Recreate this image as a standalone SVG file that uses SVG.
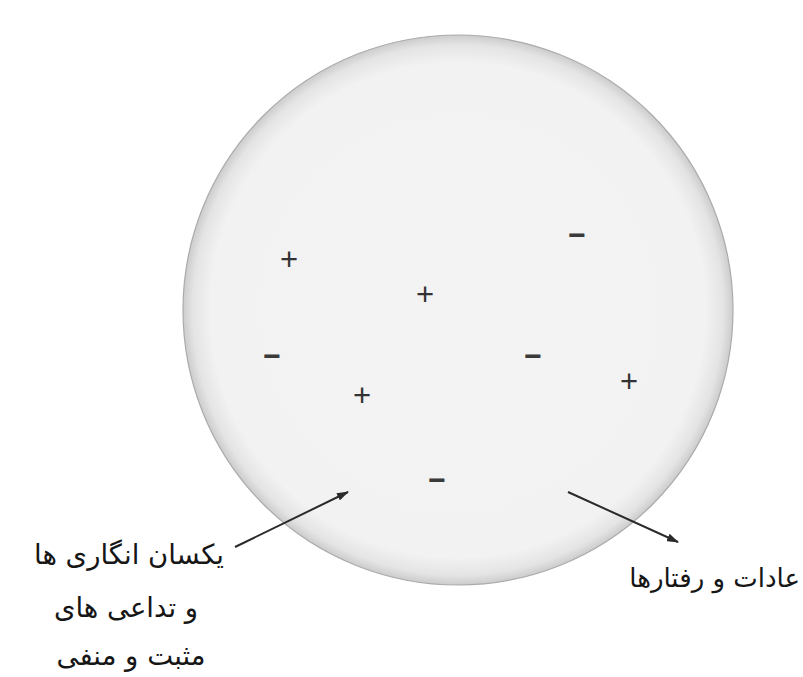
<svg xmlns="http://www.w3.org/2000/svg" width="803" height="677" viewBox="0 0 803 677">
  <style>
    .lbl { font-family: "DejaVu Sans", "Noto Sans", sans-serif; font-size: 27.5px; fill: #161616; }
    .plus { font-family: "Liberation Sans", Arial, sans-serif; font-size: 31px; fill: #333333; text-anchor: middle; }
    .minus { font-family: "Liberation Sans", Arial, sans-serif; font-size: 30px; font-weight: bold; fill: #3a3a3a; text-anchor: middle; }
    .conn { stroke: #2a2a2a; stroke-width: 2; fill: none; marker-end: url(#arrow); }
  </style>
  <defs>
    <radialGradient id="ball" cx="0.5" cy="0.5" r="0.5">
      <stop offset="0" stop-color="#f3f3f3"/>
      <stop offset="0.9" stop-color="#f2f2f2"/>
      <stop offset="0.965" stop-color="#e4e4e4"/>
      <stop offset="1" stop-color="#cccccc"/>
    </radialGradient>
    <marker id="arrow" viewBox="0 0 12 8" refX="11" refY="4" markerWidth="6" markerHeight="4" orient="auto" markerUnits="strokeWidth">
      <path d="M0,0 L12,4 L0,8 z" fill="#2a2a2a"/>
    </marker>
  </defs>
  <rect width="803" height="677" fill="#ffffff"/>

  <g id="circle">
    <circle cx="458" cy="310" r="275" fill="url(#ball)" stroke="#ababab" stroke-width="1.2"/>
    <text class="plus" x="289" y="270">+</text>
    <text class="plus" x="425" y="305">+</text>
    <text class="plus" x="629" y="392">+</text>
    <text class="plus" x="362" y="406">+</text>
    <text class="minus" x="577" y="245">−</text>
    <text class="minus" x="272" y="366">−</text>
    <text class="minus" x="533" y="366">−</text>
    <text class="minus" x="437" y="490">−</text>
  </g>

  <g id="label-left">
    <text class="lbl" x="129" y="564" text-anchor="middle">یکسان انگاری ها</text>
    <text class="lbl" x="126" y="617" text-anchor="middle">و تداعی های</text>
    <text class="lbl" x="131" y="665" text-anchor="middle">مثبت و منفی</text>
  </g>

  <g id="label-right">
    <text class="lbl" x="800" y="587" text-anchor="end" style="font-size:26px">عادات و رفتارها</text>
  </g>

  <g id="connectors">
    <line class="conn" x1="235" y1="547" x2="348" y2="492"/>
    <line class="conn" x1="568" y1="492" x2="678" y2="542"/>
  </g>
</svg>
